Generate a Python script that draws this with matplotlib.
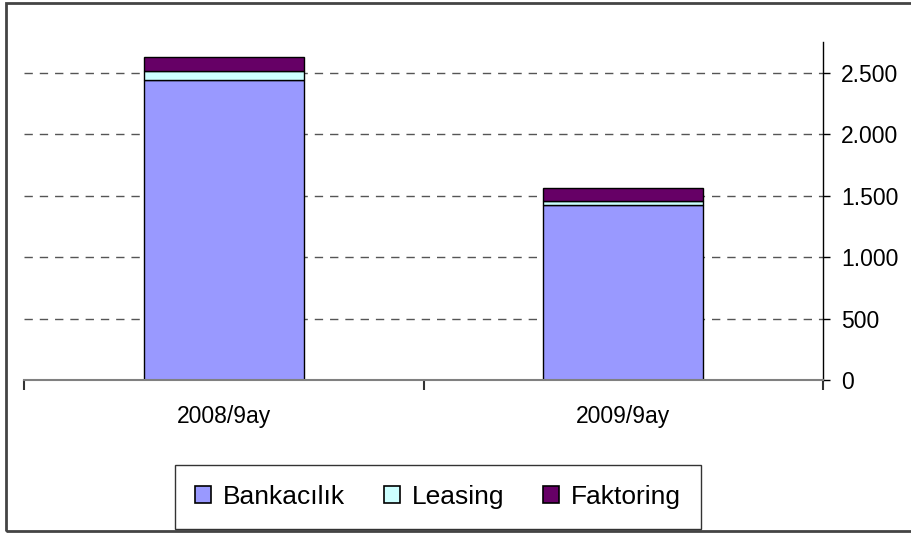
import matplotlib.pyplot as plt
from matplotlib.patches import Rectangle
from matplotlib.ticker import FixedLocator, FuncFormatter

categories = ["2008/9ay", "2009/9ay"]
bankacilik = [2440, 1420]
leasing = [75, 40]
faktoring = [115, 105]
y_ticks = [0, 500, 1000, 1500, 2000, 2500]

plt.rcParams["font.family"] = ["Liberation Sans", "DejaVu Sans"]

fig = plt.figure(figsize=(9.11, 5.34), dpi=100)
ax = fig.add_axes([24 / 911, 154 / 534, 799 / 911, 338 / 534])

x = list(range(len(categories)))
w = 0.4
b2 = [a + b for a, b in zip(bankacilik, leasing)]
ax.bar(x, bankacilik, w, color="#9999FF", edgecolor="black", linewidth=1, label="Bankacılık")
ax.bar(x, leasing, w, bottom=bankacilik, color="#CCFFFF", edgecolor="black", linewidth=1, label="Leasing")
ax.bar(x, faktoring, w, bottom=b2, color="#660066", edgecolor="black", linewidth=1, label="Faktoring")

ax.set_xlim(-0.5, 1.5)
ax.set_ylim(0, 2750)

# right-hand value axis
ax.yaxis.tick_right()
ax.set_yticks(y_ticks)
ax.yaxis.set_major_formatter(FuncFormatter(lambda v, p: f"{v:,.0f}".replace(",", ".")))
ax.tick_params(axis="y", direction="out", length=5, width=1, pad=8, labelsize=16.5, colors="black")

# category axis: marks between categories, labels at centres
ax.xaxis.set_major_locator(FixedLocator([-0.5, 0.5, 1.5]))
ax.xaxis.set_major_formatter(FuncFormatter(lambda v, p: ""))
ax.xaxis.set_minor_locator(FixedLocator(x))
ax.set_xticklabels(categories, minor=True)
ax.tick_params(axis="x", which="major", direction="out", length=7, width=1.5, color="#333333")
ax.tick_params(axis="x", which="minor", length=0, pad=18, labelsize=16.5)

for s in ["left", "top"]:
    ax.spines[s].set_visible(False)
ax.spines["right"].set_color("black")
ax.spines["right"].set_linewidth(1)
ax.spines["bottom"].set_color("#808080")
ax.spines["bottom"].set_linewidth(1.5)

ax.set_axisbelow(True)
ax.yaxis.grid(True, color="#555555", linewidth=1, linestyle=(0, (6, 5)))
ax.yaxis.get_gridlines()[0].set_visible(False)

leg = fig.legend(loc="center", bbox_to_anchor=(438 / 911, 1 - 497 / 534), ncol=3,
                 fontsize=19, frameon=True, fancybox=False, handlelength=0.62,
                 handleheight=0.62, handletextpad=0.45, columnspacing=1.45,
                 borderpad=0.75)
leg.get_frame().set_edgecolor("black")
leg.get_frame().set_linewidth(1)
for h in leg.legend_handles:
    h.set_linewidth(1.2)

# outer chart border
fig.patches.append(Rectangle((6 / 911, 3 / 534), 910 / 911, 528 / 534, transform=fig.transFigure,
                             fill=False, edgecolor="#444444", linewidth=2))

fig.savefig("out.png", dpi=100)
